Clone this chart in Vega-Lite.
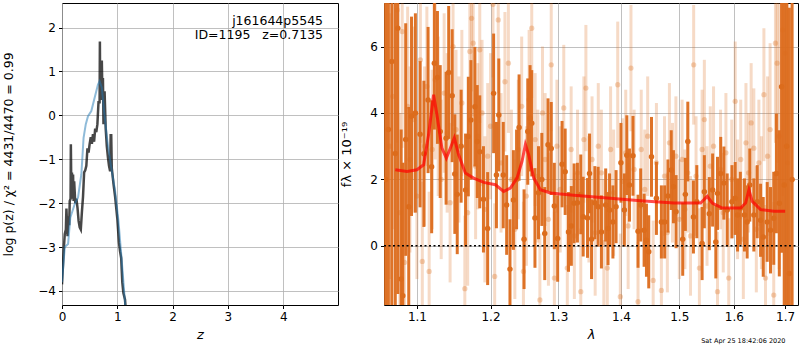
{
"$schema": "https://vega.github.io/schema/vega-lite/v6.json",
"background": "white",
"padding": {"left": 2, "top": 2, "right": 1, "bottom": 0},
"autosize": {"type": "pad"},
"bounds": "flush",
"spacing": 46,
"config": {
  "font": "DejaVu Sans",
  "view": {"stroke": "black", "strokeWidth": 1},
  "axis": {"domain": false, "grid": true, "gridColor": "#b0b0b0", "gridWidth": 0.8, "tickColor": "black", "tickSize": 3.5, "labelPadding": 3, "labelFontSize": 12, "labelColor": "black", "titleFontSize": 13, "titleFontWeight": "normal", "titleColor": "black", "labelFont": "DejaVu Sans", "titleFont": "DejaVu Sans", "labelFlush": false, "labelOverlap": false}
},
"datasets": {
  "pzdark": [
    {"z":0.00,"p":-3.85},{"z":0.03,"p":-3.1},{"z":0.05,"p":-2.7},{"z":0.07,"p":-2.6},{"z":0.08,"p":-2.12},{"z":0.10,"p":-2.75},{"z":0.12,"p":-2.3},{"z":0.13,"p":-2.5},{"z":0.14,"p":-1.95},{"z":0.155,"p":-1.9},{"z":0.16,"p":-0.66},{"z":0.17,"p":-1.85},{"z":0.18,"p":-1.3},{"z":0.19,"p":-1.9},{"z":0.20,"p":-1.35},{"z":0.21,"p":-1.95},{"z":0.22,"p":-1.5},{"z":0.24,"p":-2.0},{"z":0.26,"p":-1.9},{"z":0.28,"p":-2.1},{"z":0.30,"p":-2.4},{"z":0.32,"p":-2.55},{"z":0.34,"p":-2.6},{"z":0.36,"p":-2.2},{"z":0.38,"p":-1.85},{"z":0.40,"p":-1.3},{"z":0.42,"p":-1.25},{"z":0.44,"p":-1.15},{"z":0.46,"p":-0.75},{"z":0.48,"p":-0.85},{"z":0.50,"p":-0.65},{"z":0.52,"p":-0.5},{"z":0.54,"p":-0.65},{"z":0.56,"p":-0.43},{"z":0.58,"p":-0.6},{"z":0.60,"p":-0.3},{"z":0.62,"p":-0.38},{"z":0.64,"p":-0.2},{"z":0.66,"p":0.3},{"z":0.68,"p":0.3},{"z":0.685,"p":1.68},{"z":0.69,"p":0.6},{"z":0.70,"p":1.2},{"z":0.71,"p":0.35},{"z":0.72,"p":1.25},{"z":0.73,"p":0.5},{"z":0.74,"p":0.85},{"z":0.75,"p":-0.2},{"z":0.77,"p":0.55},{"z":0.79,"p":-0.3},{"z":0.81,"p":-0.7},{"z":0.83,"p":-0.95},{"z":0.85,"p":-1.15},{"z":0.87,"p":-1.27},{"z":0.88,"p":-0.45},{"z":0.89,"p":-0.45},{"z":0.90,"p":-1.2},{"z":0.93,"p":-1.55},{"z":0.96,"p":-1.85},{"z":1.00,"p":-2.35},{"z":1.03,"p":-2.9},{"z":1.05,"p":-3.1},{"z":1.07,"p":-3.25},{"z":1.09,"p":-3.8},{"z":1.11,"p":-4.05},{"z":1.14,"p":-4.2},{"z":1.16,"p":-4.6}
  ],
  "pzblue": [
    {"z":0.00,"p":-3.8},{"z":0.05,"p":-3.0},{"z":0.11,"p":-2.93},{"z":0.15,"p":-2.33},{"z":0.23,"p":-2.02},{"z":0.29,"p":-1.87},{"z":0.35,"p":-1.34},{"z":0.39,"p":-0.51},{"z":0.43,"p":-0.2},{"z":0.47,"p":-0.02},{"z":0.53,"p":0.1},{"z":0.59,"p":0.4},{"z":0.65,"p":0.7},{"z":0.68,"p":0.78},{"z":0.72,"p":0.63},{"z":0.76,"p":0.1},{"z":0.82,"p":-0.58},{"z":0.88,"p":-1.11},{"z":0.96,"p":-1.72},{"z":1.02,"p":-2.4},{"z":1.08,"p":-3.31},{"z":1.16,"p":-4.6}
  ],
  "ann": [
    {"z":4.72,"p":2.14,"t":"j161644p5545"},
    {"z":4.72,"p":1.82,"t":"ID=1195\u00a0\u00a0\u00a0z=0.7135"}
  ],
  "dark": [
    {"l":1.060,"f":2.0,"e":9},{"l":1.0635,"f":3.5,"e":9},{"l":1.0678,"f":5.55,"e":8},{"l":1.0722,"f":2.78,"e":6},{"l":1.0754,"f":6.55,"e":8},{"l":1.0797,"f":-1.0,"e":4.5},{"l":1.0818,"f":-1.5,"e":4},{"l":1.0855,"f":3.2,"e":3.5},{"l":1.0894,"f":1.18,"e":3},{"l":1.093,"f":3.9,"e":3},{"l":1.098,"f":4.0,"e":3},
    {"l":1.1041,"f":3.36,"e":2.2},{"l":1.1091,"f":2.77,"e":2.2},{"l":1.1146,"f":4.39,"e":2.2},{"l":1.1193,"f":2.38,"e":2},{"l":1.1229,"f":5.5,"e":2},{"l":1.127,"f":5.07,"e":2},{"l":1.1307,"f":3.44,"e":2},{"l":1.1386,"f":3.24,"e":2},{"l":1.1421,"f":5.22,"e":2},{"l":1.1468,"f":4.52,"e":2},{"l":1.1504,"f":2.16,"e":1.8},{"l":1.1537,"f":1.55,"e":1.8},{"l":1.159,"f":3.0,"e":1.7},{"l":1.1651,"f":1.68,"e":1.7},{"l":1.1689,"f":3.29,"e":1.8},{"l":1.1725,"f":3.79,"e":1.8},{"l":1.178,"f":4.19,"e":1.8},{"l":1.1813,"f":3.14,"e":1.7},{"l":1.1848,"f":2.83,"e":1.7},{"l":1.19,"f":1.4,"e":1.6},{"l":1.1959,"f":0.52,"e":1.7},
    {"l":1.2044,"f":4.59,"e":1.8},{"l":1.2084,"f":2.13,"e":1.6},{"l":1.2118,"f":3.94,"e":1.7},{"l":1.2182,"f":2.13,"e":1.6},{"l":1.2231,"f":1.23,"e":1.5},{"l":1.2279,"f":-0.7,"e":1.5},{"l":1.2329,"f":1.38,"e":1.5},{"l":1.2375,"f":2.0,"e":1.5},{"l":1.2412,"f":3.56,"e":1.6},{"l":1.2485,"f":0.2,"e":1.5},{"l":1.254,"f":3.44,"e":1.6},{"l":1.2574,"f":3.84,"e":1.6},{"l":1.2599,"f":3.69,"e":1.6},{"l":1.2647,"f":0.84,"e":1.5},{"l":1.27,"f":1.6,"e":1.4},{"l":1.275,"f":2.0,"e":1.4},{"l":1.2794,"f":0.37,"e":1.4},{"l":1.2844,"f":3.04,"e":1.4},{"l":1.2893,"f":2.93,"e":1.4},{"l":1.294,"f":1.2,"e":1.3},{"l":1.2991,"f":0.22,"e":1.3},
    {"l":1.3059,"f":2.46,"e":1.3},{"l":1.3107,"f":2.23,"e":1.3},{"l":1.3159,"f":0.42,"e":1.2},{"l":1.3203,"f":0.6,"e":1.2},{"l":1.3246,"f":1.28,"e":1.2},{"l":1.3298,"f":1.3,"e":1.2},{"l":1.3351,"f":1.55,"e":1.2},{"l":1.3389,"f":0.88,"e":1.2},{"l":1.3458,"f":0.84,"e":1.2},{"l":1.349,"f":2.18,"e":1.2},{"l":1.3522,"f":0.2,"e":1.2},{"l":1.3575,"f":1.3,"e":1.1},{"l":1.3628,"f":1.18,"e":1.2},{"l":1.3681,"f":0.42,"e":1.1},{"l":1.375,"f":1.23,"e":1.1},{"l":1.3788,"f":0.52,"e":1.1},{"l":1.3813,"f":1.08,"e":1.1},{"l":1.3868,"f":0.72,"e":1.1},{"l":1.392,"f":1.18,"e":1.1},
    {"l":1.4,"f":2.5,"e":1.2},{"l":1.4057,"f":1.08,"e":1.1},{"l":1.4098,"f":2.73,"e":1.2},{"l":1.4142,"f":1.83,"e":1.1},{"l":1.4201,"f":2.71,"e":1.2},{"l":1.4286,"f":0.44,"e":1.1},{"l":1.4331,"f":1.23,"e":1.1},{"l":1.4389,"f":0.47,"e":1.1},{"l":1.4429,"f":0.17,"e":1.1},{"l":1.4468,"f":-0.18,"e":1.1},{"l":1.4515,"f":2.68,"e":1.2},{"l":1.46,"f":1.43,"e":1.1},{"l":1.4686,"f":0.72,"e":1.1},{"l":1.4743,"f":0.72,"e":1.1},{"l":1.48,"f":1.5,"e":1.1},{"l":1.4858,"f":2.28,"e":1.2},{"l":1.4897,"f":1.78,"e":1.1},{"l":1.4943,"f":1.03,"e":1.1},
    {"l":1.5061,"f":0.2,"e":1.1},{"l":1.5108,"f":1.55,"e":1.1},{"l":1.5152,"f":3.14,"e":1.2},{"l":1.5253,"f":0.87,"e":1.1},{"l":1.5314,"f":1.33,"e":1.1},{"l":1.541,"f":0.07,"e":1.1},{"l":1.5451,"f":1.63,"e":1.1},{"l":1.5542,"f":0.97,"e":1.1},{"l":1.5603,"f":1.68,"e":1.1},{"l":1.5662,"f":0.12,"e":1.1},{"l":1.5693,"f":1.58,"e":1.1},{"l":1.5753,"f":2.18,"e":1.1},{"l":1.5812,"f":1.89,"e":1.1},{"l":1.5874,"f":1.08,"e":1.1},{"l":1.5964,"f":1.33,"e":1.1},
    {"l":1.6025,"f":1.43,"e":1.1},{"l":1.607,"f":0.93,"e":1.1},{"l":1.6123,"f":1.13,"e":1.1},{"l":1.6201,"f":0.93,"e":1.1},{"l":1.6253,"f":0.72,"e":1.1},{"l":1.6304,"f":1.83,"e":1.1},{"l":1.6382,"f":0.93,"e":1.1},{"l":1.6448,"f":1.33,"e":1.1},{"l":1.6513,"f":0.77,"e":1.1},{"l":1.6565,"f":0.27,"e":1.2},{"l":1.6643,"f":0.72,"e":1.2},{"l":1.6708,"f":0.47,"e":1.3},{"l":1.6772,"f":0.83,"e":1.4},{"l":1.6825,"f":2.18,"e":1.8},{"l":1.6883,"f":1.28,"e":2.2},{"l":1.6928,"f":4.79,"e":5},{"l":1.6981,"f":1.83,"e":7},{"l":1.703,"f":3.0,"e":8},{"l":1.7084,"f":-0.83,"e":8},{"l":1.714,"f":2.0,"e":9}
  ],
  "light": [
    {"l":1.065,"f":3.0,"e":4},{"l":1.069,"f":4.5,"e":4},{"l":1.0747,"f":7.1,"e":4},{"l":1.078,"f":1.0,"e":3},{"l":1.081,"f":6.45,"e":3.5},{"l":1.084,"f":-0.5,"e":3},{"l":1.088,"f":4.2,"e":3},{"l":1.091,"f":2.6,"e":2.8},{"l":1.096,"f":3.8,"e":2.8},{"l":1.1,"f":1.5,"e":2.5},{"l":1.1045,"f":5.6,"e":2.5},{"l":1.107,"f":-0.47,"e":2.4},{"l":1.11,"f":3.0,"e":2.4},{"l":1.113,"f":4.8,"e":2.4},{"l":1.116,"f":-0.77,"e":2.4},{"l":1.12,"f":2.9,"e":2.4},{"l":1.124,"f":5.0,"e":2.4},{"l":1.128,"f":3.9,"e":2.4},{"l":1.132,"f":2.0,"e":2.4},{"l":1.136,"f":4.6,"e":2.4},{"l":1.14,"f":3.4,"e":2.4},{"l":1.144,"f":1.3,"e":2.4},{"l":1.148,"f":6.0,"e":2.4},{"l":1.152,"f":3.5,"e":2.4},{"l":1.156,"f":2.9,"e":2.2},{"l":1.16,"f":4.3,"e":2.2},{"l":1.1641,"f":-1.29,"e":2.2},{"l":1.168,"f":1.0,"e":2.2},{"l":1.171,"f":5.85,"e":2.2},{"l":1.1734,"f":6.85,"e":2.2},{"l":1.1757,"f":6.1,"e":2.2},{"l":1.179,"f":2.4,"e":2.2},{"l":1.182,"f":3.3,"e":2.2},{"l":1.1848,"f":5.9,"e":2.2},{"l":1.188,"f":4.0,"e":2.2},{"l":1.192,"f":1.1,"e":2.2},{"l":1.196,"f":2.7,"e":2.2},
    {"l":1.2,"f":3.6,"e":2.2},{"l":1.2035,"f":7.27,"e":2.2},{"l":1.2059,"f":-0.92,"e":2.2},{"l":1.211,"f":6.8,"e":2.2},{"l":1.215,"f":2.5,"e":2.1},{"l":1.2206,"f":4.94,"e":2.1},{"l":1.2256,"f":5.5,"e":2.1},{"l":1.23,"f":2.0,"e":2.1},{"l":1.235,"f":0.5,"e":2.1},{"l":1.24,"f":2.9,"e":2.1},{"l":1.245,"f":4.2,"e":2.1},{"l":1.2476,"f":-0.77,"e":2.1},{"l":1.252,"f":1.5,"e":2.1},{"l":1.256,"f":4.4,"e":2.1},{"l":1.2599,"f":6.55,"e":2.1},{"l":1.265,"f":3.2,"e":2},{"l":1.269,"f":2.1,"e":2},{"l":1.2721,"f":-1.63,"e":2},{"l":1.276,"f":4.0,"e":2},{"l":1.28,"f":2.6,"e":2},{"l":1.285,"f":0.8,"e":2},{"l":1.2893,"f":5.45,"e":2},{"l":1.2941,"f":-0.97,"e":2},{"l":1.298,"f":3.0,"e":2},
    {"l":1.303,"f":1.7,"e":1.9},{"l":1.3085,"f":4.15,"e":1.9},{"l":1.314,"f":-0.67,"e":1.9},{"l":1.32,"f":2.9,"e":1.9},{"l":1.325,"f":0.3,"e":1.9},{"l":1.33,"f":2.2,"e":1.9},{"l":1.3351,"f":-1.38,"e":1.9},{"l":1.34,"f":3.2,"e":1.9},{"l":1.3432,"f":4.75,"e":1.9},{"l":1.348,"f":1.4,"e":1.9},{"l":1.353,"f":2.6,"e":1.9},{"l":1.358,"f":0.4,"e":1.9},{"l":1.363,"f":3.0,"e":1.9},{"l":1.368,"f":2.2,"e":1.9},{"l":1.372,"f":0.1,"e":1.9},{"l":1.3776,"f":-0.67,"e":1.9},{"l":1.383,"f":2.9,"e":1.9},{"l":1.388,"f":1.6,"e":1.9},{"l":1.3947,"f":4.85,"e":1.9},{"l":1.399,"f":-1.53,"e":1.9},
    {"l":1.403,"f":1.94,"e":1.9},{"l":1.408,"f":2.8,"e":1.9},{"l":1.412,"f":0.6,"e":1.9},{"l":1.4167,"f":5.35,"e":1.9},{"l":1.422,"f":2.3,"e":1.8},{"l":1.4286,"f":-1.68,"e":1.8},{"l":1.434,"f":2.9,"e":1.8},{"l":1.44,"f":1.7,"e":1.8},{"l":1.445,"f":3.3,"e":1.8},{"l":1.4544,"f":-1.04,"e":1.8},{"l":1.46,"f":2.5,"e":1.8},{"l":1.4686,"f":-1.34,"e":1.8},{"l":1.474,"f":2.1,"e":1.8},{"l":1.479,"f":0.4,"e":1.8},{"l":1.4826,"f":3.1,"e":1.8},{"l":1.488,"f":1.9,"e":1.8},{"l":1.494,"f":2.7,"e":1.8},
    {"l":1.5,"f":0.8,"e":1.8},{"l":1.505,"f":2.6,"e":1.8},{"l":1.51,"f":1.1,"e":1.8},{"l":1.515,"f":2.2,"e":1.8},{"l":1.52,"f":0.3,"e":1.8},{"l":1.5257,"f":5.45,"e":1.8},{"l":1.53,"f":2.1,"e":1.8},{"l":1.5361,"f":-0.67,"e":1.8},{"l":1.541,"f":2.9,"e":1.8},{"l":1.5451,"f":3.8,"e":1.8},{"l":1.55,"f":1.2,"e":1.8},{"l":1.556,"f":2.4,"e":1.8},{"l":1.562,"f":3.0,"e":1.8},{"l":1.5693,"f":-1.38,"e":1.8},{"l":1.575,"f":2.3,"e":1.8},{"l":1.58,"f":1.0,"e":1.8},{"l":1.585,"f":2.8,"e":1.8},{"l":1.5903,"f":-0.97,"e":1.8},{"l":1.596,"f":2.0,"e":1.8},
    {"l":1.6025,"f":4.35,"e":1.8},{"l":1.607,"f":1.4,"e":1.8},{"l":1.613,"f":2.6,"e":1.8},{"l":1.618,"f":0.2,"e":1.8},{"l":1.623,"f":3.1,"e":1.8},{"l":1.628,"f":2.2,"e":1.8},{"l":1.633,"f":3.7,"e":1.8},{"l":1.6382,"f":2.94,"e":1.8},{"l":1.643,"f":0.5,"e":1.9},{"l":1.648,"f":2.5,"e":1.9},{"l":1.653,"f":1.3,"e":2},{"l":1.6578,"f":4.55,"e":2},{"l":1.6609,"f":-0.97,"e":2.2},{"l":1.665,"f":2.7,"e":2.4},{"l":1.67,"f":3.5,"e":2.6},{"l":1.6772,"f":-1.48,"e":2.8},{"l":1.6806,"f":6.1,"e":3},{"l":1.6839,"f":5.5,"e":3},{"l":1.688,"f":3.3,"e":4},{"l":1.695,"f":6.5,"e":5},{"l":1.7,"f":5.8,"e":6},{"l":1.705,"f":2.5,"e":7}
  ],
  "model": [
    {"l":1.0722,"f":2.29},{"l":1.0871,"f":2.24},{"l":1.1,"f":2.29},{"l":1.1087,"f":2.44},{"l":1.1153,"f":3.35},{"l":1.1219,"f":4.55},{"l":1.1263,"f":3.95},{"l":1.133,"f":2.94},{"l":1.1389,"f":2.64},{"l":1.1443,"f":2.94},{"l":1.1497,"f":3.25},{"l":1.1556,"f":2.74},{"l":1.1648,"f":2.19},{"l":1.1763,"f":2.04},{"l":1.1903,"f":1.91},{"l":1.2069,"f":1.84},{"l":1.2188,"f":1.64},{"l":1.2285,"f":1.74},{"l":1.2382,"f":2.04},{"l":1.2455,"f":2.54},{"l":1.2505,"f":3.05},{"l":1.2554,"f":2.74},{"l":1.2629,"f":2.04},{"l":1.2729,"f":1.69},{"l":1.288,"f":1.59},{"l":1.3241,"f":1.52},{"l":1.3773,"f":1.44},{"l":1.4328,"f":1.36},{"l":1.4905,"f":1.29},{"l":1.5383,"f":1.29},{"l":1.5503,"f":1.49},{"l":1.5596,"f":1.29},{"l":1.5781,"f":1.14},{"l":1.6128,"f":1.14},{"l":1.6223,"f":1.29},{"l":1.6287,"f":1.69},{"l":1.6351,"f":1.34},{"l":1.6514,"f":1.09},{"l":1.6776,"f":1.04},{"l":1.7,"f":1.04}
  ],
  "zero": [{"l":1.058,"f":0},{"l":1.726,"f":0}],
  "stamp": [{"l":1.618,"f":-2.855,"t":"Sat Apr 25 18:42:06 2020"}]
},
"hconcat": [
  {
    "width": 276,
    "height": 302,
    "encoding": {
      "x": {"field": "z", "type": "quantitative", "scale": {"domain": [0, 4.99], "nice": false, "zero": false}, "axis": {"values": [0, 1, 2, 3, 4], "format": "d", "title": "z", "titleFontStyle": "italic", "titlePadding": 6}},
      "y": {"field": "p", "type": "quantitative", "scale": {"domain": [-4.32, 2.56], "nice": false, "zero": false}, "axis": {"values": [-4, -3, -2, -1, 0, 1, 2], "format": "d", "title": "log p(z) / χ² = 4431/4470 = 0.99", "titlePadding": 22, "titleFontSize": 12.5}}
    },
    "layer": [
      {"data": {"name": "pzdark"}, "mark": {"type": "line", "color": "black", "opacity": 0.72, "strokeWidth": 2.5, "clip": true}},
      {"data": {"name": "pzblue"}, "mark": {"type": "line", "color": "#1f77b4", "opacity": 0.5, "strokeWidth": 2, "clip": true}},
      {"data": {"name": "ann"}, "mark": {"type": "text", "align": "right", "baseline": "middle", "fontSize": 12.5, "color": "black"}, "encoding": {"text": {"field": "t"}}}
    ]
  },
  {
    "width": 414,
    "height": 302,
    "encoding": {
      "x": {"field": "l", "type": "quantitative", "scale": {"type": "log", "domain": [1.058, 1.726], "nice": false}, "axis": {"values": [1.1, 1.2, 1.3, 1.4, 1.5, 1.6, 1.7], "format": ".1f", "title": "λ", "titleFontStyle": "italic", "titlePadding": 6}},
      "y": {"field": "f", "type": "quantitative", "scale": {"domain": [-1.78, 7.31], "nice": false, "zero": false}, "axis": {"values": [0, 2, 4, 6], "format": "d", "title": "fλ × 10⁻¹⁹", "titlePadding": 16}}
    },
    "layer": [
      {"data": {"name": "light"}, "mark": {"type": "errorbar", "ticks": false, "thickness": 3, "color": "#dc6c1c", "opacity": 0.25, "clip": true}, "encoding": {"yError": {"field": "e"}}},
      {"data": {"name": "light"}, "mark": {"type": "circle", "size": 28, "color": "#dc6c1c", "opacity": 0.3, "clip": true}},
      {"data": {"name": "dark"}, "mark": {"type": "errorbar", "ticks": false, "thickness": 3, "color": "#dc6c1c", "opacity": 0.95, "clip": true}, "encoding": {"yError": {"field": "e"}}},
      {"data": {"name": "dark"}, "mark": {"type": "circle", "size": 30, "color": "#dc6c1c", "opacity": 1, "clip": true}},
      {"data": {"name": "zero"}, "mark": {"type": "line", "color": "black", "strokeDash": [2, 2.5], "strokeWidth": 1.5}},
      {"data": {"name": "model"}, "mark": {"type": "line", "color": "red", "opacity": 0.7, "strokeWidth": 3}},
      {"data": {"name": "stamp"}, "mark": {"type": "text", "fontSize": 6.5, "align": "center", "baseline": "middle", "color": "black"}, "encoding": {"text": {"field": "t"}}}
    ]
  }
]
}
